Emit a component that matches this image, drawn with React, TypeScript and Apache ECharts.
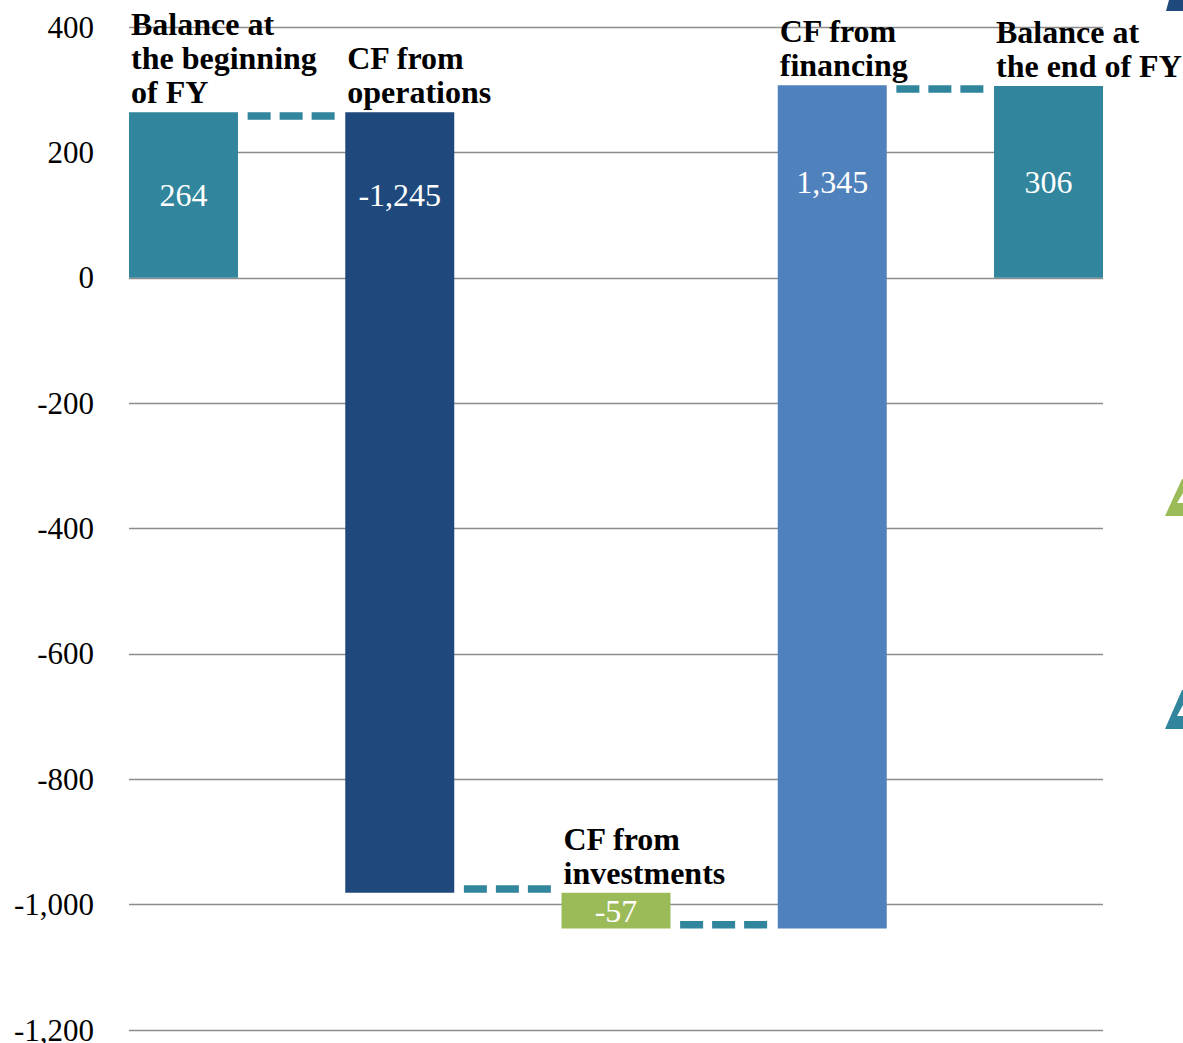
import React, { useEffect, useRef } from "react";
import * as echarts from "echarts";

const categories = [
  "Balance at\nthe beginning\nof FY",
  "CF from\noperations",
  "CF from\ninvestments",
  "CF from\nfinancing",
  "Balance at\nthe end of FY",
];
const values = [264, -1245, -57, 1345, 306];
const isTotal = [true, false, false, false, true];
const barColors = ["#31859C", "#1F497D", "#9BBB59", "#4F81BD", "#31859C"];
const yMin = -1200;
const yMax = 400;
const yStep = 200;

const SERIF = '"Liberation Serif", "Times New Roman", serif';
const BAR_W = 0.504;

function fmt(v: number): string {
  const s = Math.abs(v).toLocaleString("en-US");
  return v < 0 ? "-" + s : s;
}

export default function App() {
  const ref = useRef<HTMLDivElement>(null);

  useEffect(() => {
    document.body.style.margin = "0";
    if (!ref.current) return;
    const chart = echarts.init(ref.current, undefined, { renderer: "svg" });

    let running = 0;
    const bars = values.map((v, i) => {
      let start: number, end: number;
      if (isTotal[i]) {
        start = 0;
        end = v;
      } else {
        start = running;
        end = running + v;
      }
      running = end;
      const lo = Math.min(start, end);
      const hi = Math.max(start, end);
      const labelAt = lo < 0 && hi > 0 ? hi / 2 : (lo + hi) / 2;
      return { start, end, lo, hi, labelAt };
    });
    const barData = bars.map((b, i) => [i, b.lo, b.hi, b.labelAt]);
    const connData = bars.slice(0, -1).map((b, i) => [i, b.end, b.end >= b.start ? 1 : -1]);

    chart.setOption({
      animation: false,
      grid: { left: 129, right: 80, top: 27, bottom: 13, outerBoundsMode: "none", containLabel: false },
      xAxis: {
        type: "value",
        min: -BAR_W / 2,
        max: categories.length - 1 + BAR_W / 2,
        show: false,
        splitLine: { show: false },
      },
      yAxis: {
        type: "value",
        min: yMin,
        max: yMax,
        interval: yStep,
        axisLine: { show: false },
        axisTick: { show: false },
        axisLabel: {
          margin: 35,
          color: "#000",
          fontFamily: SERIF,
          fontSize: 31,
          formatter: (v: number) => fmt(v),
        },
        splitLine: { lineStyle: { color: "#8c8c8c", width: 1.4 } },
      },
      series: [
        {
          type: "custom",
          data: connData,
          z: 2,
          renderItem: (params: any, api: any) => {
            const i = api.value(0);
            const level = api.value(1);
            const dir = api.value(2);
            const c = api.coord([i + 0.5, level]);
            const lw = 7.5;
            const y = c[1] + (dir * lw) / 2;
            return {
              type: "line",
              shape: { x1: c[0] - 44, y1: y, x2: c[0] + 44, y2: y },
              style: { stroke: "#31859C", lineWidth: lw, lineDash: [23, 9], fill: null },
            };
          },
        },
        {
          type: "custom",
          data: barData,
          z: 3,
          renderItem: (params: any, api: any) => {
            const idx = params.dataIndex;
            const i = api.value(0);
            const lo = api.value(1);
            const hi = api.value(2);
            const lab = api.value(3);
            const pTop = api.coord([i, hi]);
            const pBot = api.coord([i, lo]);
            const pLab = api.coord([i, lab]);
            const w = api.size([BAR_W, 0])[0];
            const left = pTop[0] - w / 2;
            return {
              type: "group",
              children: [
                {
                  type: "rect",
                  shape: { x: left, y: pTop[1], width: w, height: pBot[1] - pTop[1] },
                  style: { fill: barColors[idx] },
                },
                {
                  type: "text",
                  style: {
                    text: fmt(values[idx]),
                    x: pTop[0],
                    y: pLab[1],
                    align: "center",
                    verticalAlign: "middle",
                    fill: "#fff",
                    fontFamily: SERIF,
                    fontSize: 32,
                  },
                },
                {
                  type: "text",
                  style: {
                    text: categories[idx],
                    x: left + 2,
                    y: pTop[1] - 3,
                    align: "left",
                    verticalAlign: "bottom",
                    fill: "#000",
                    fontFamily: SERIF,
                    fontSize: 32,
                    fontWeight: "bold",
                    lineHeight: 34,
                  },
                },
              ],
            };
          },
        },
      ],
      graphic: [
        {
          type: "polygon",
          shape: { points: [[1169, 0], [1183, 0], [1183, 11], [1166, 11]] },
          style: { fill: "#1F497D" },
        },
        {
          type: "polygon",
          shape: {
            points: [[1165, 516], [1182, 479], [1183, 479], [1183, 493], [1177, 503], [1183, 503], [1183, 516]],
          },
          style: { fill: "#9BBB59" },
        },
        {
          type: "polygon",
          shape: {
            points: [[1165, 729], [1182, 690], [1183, 690], [1183, 705], [1177, 716], [1183, 716], [1183, 729]],
          },
          style: { fill: "#31859C" },
        },
      ],
    });

    return () => chart.dispose();
  }, []);

  return <div ref={ref} style={{ width: 1183, height: 1043 }} />;
}
